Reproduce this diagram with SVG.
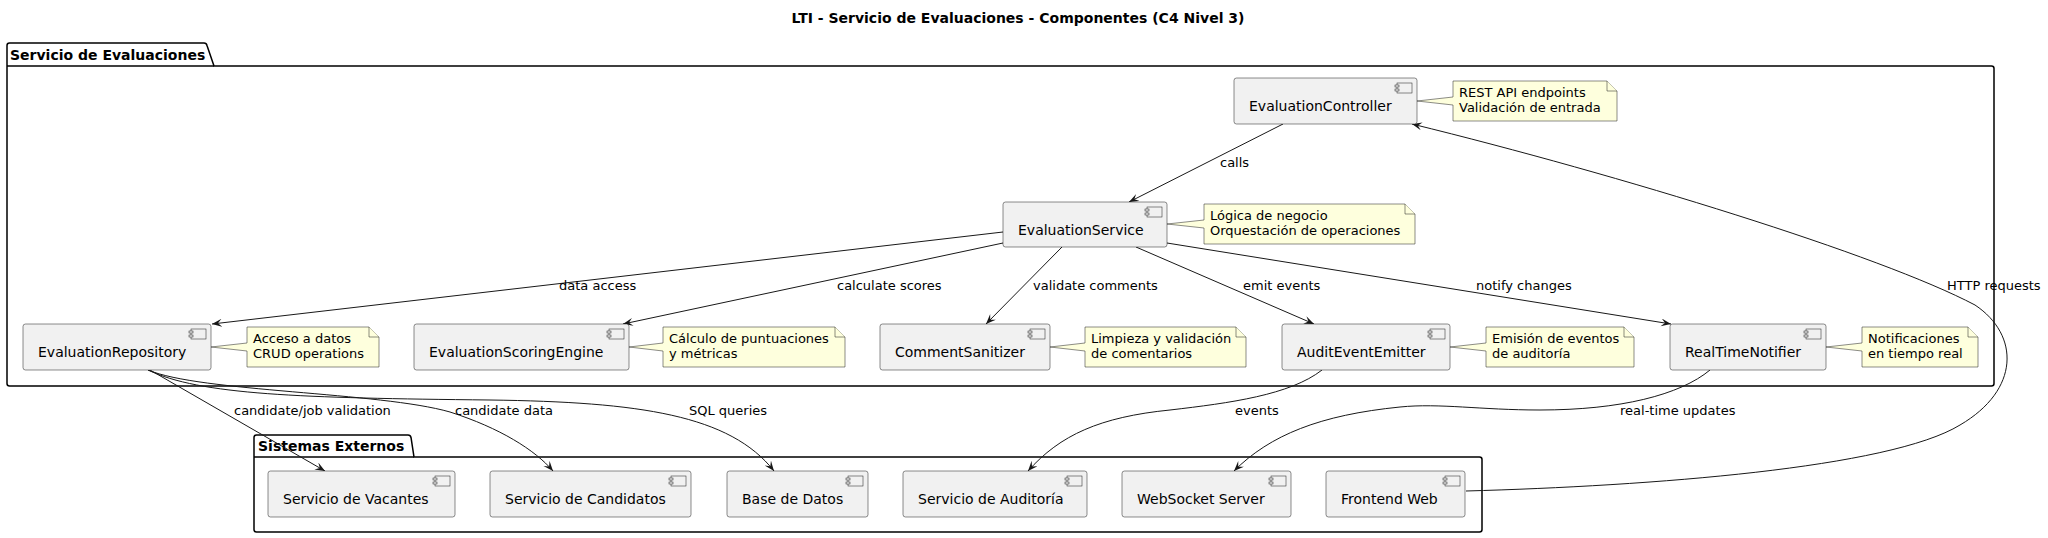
<svg xmlns="http://www.w3.org/2000/svg" width="2048" height="538" viewBox="0 0 2048 538">
<style>
text{font-family:"DejaVu Sans","Liberation Sans",sans-serif;fill:#000}
.title{font-size:14px;font-weight:bold}
.pkgl{font-size:14px;font-weight:bold}
.cl{font-size:14px}
.nt{font-size:13px}
.lb{font-size:13px}
.pkg{fill:none;stroke:#000;stroke-width:1.5}
.comp{fill:#F1F1F1;stroke:#181818;stroke-width:0.5}
.ico{fill:#F1F1F1;stroke:#181818;stroke-width:0.5}
.note{fill:#FEFFDD;stroke:#181818;stroke-width:0.5}
.edge{fill:none;stroke:#181818;stroke-width:1}
</style>
<defs>
<marker id="ah" markerUnits="userSpaceOnUse" markerWidth="12" markerHeight="10" refX="10" refY="4" orient="auto">
<path d="M0,0 L10,4 L0,8 L4,4 Z" fill="#181818"/>
</marker>
<g id="icon">
<rect x="-20" y="5" width="15" height="10" class="ico"/>
<rect x="-22" y="7" width="4" height="2" class="ico"/>
<rect x="-22" y="11" width="4" height="2" class="ico"/>
</g>
</defs>

<text class="title" x="1018" y="23" text-anchor="middle">LTI - Servicio de Evaluaciones - Componentes (C4 Nivel 3)</text>

<g id="pkg-evaluaciones">
<path class="pkg" d="M7,45.5 Q7,43 9.5,43 L204,43 Q206.5,43 207,45.5 L214,66 L1991.5,66 Q1994,66 1994,68.5 L1994,383.5 Q1994,386 1991.5,386 L9.5,386 Q7,386 7,383.5 Z"/>
<line class="pkg" x1="7" y1="66" x2="214" y2="66"/>
<text class="pkgl" x="10" y="60">Servicio de Evaluaciones</text>
</g>

<g id="pkg-externos">
<path class="pkg" d="M254,437.5 Q254,435 256.5,435 L408,435 Q410.5,435 411,437.5 L414,457 L1479.5,457 Q1482,457 1482,459.5 L1482,529.5 Q1482,532 1479.5,532 L256.5,532 Q254,532 254,529.5 Z"/>
<line class="pkg" x1="254" y1="457" x2="414" y2="457"/>
<text class="pkgl" x="258" y="451">Sistemas Externos</text>
</g>

<g id="connectors">
<path class="edge" d="M1283,124 L1129,202" marker-end="url(#ah)"/>
<text class="lb" x="1220" y="167">calls</text>
<path class="edge" d="M1003,232 L212,324" marker-end="url(#ah)"/>
<text class="lb" x="559" y="290">data access</text>
<path class="edge" d="M1003,243 L623,324" marker-end="url(#ah)"/>
<text class="lb" x="837" y="290">calculate scores</text>
<path class="edge" d="M1062,247 L986,324" marker-end="url(#ah)"/>
<text class="lb" x="1033" y="290">validate comments</text>
<path class="edge" d="M1136,247 L1314,324" marker-end="url(#ah)"/>
<text class="lb" x="1243" y="290">emit events</text>
<path class="edge" d="M1167,243 L1671,324" marker-end="url(#ah)"/>
<text class="lb" x="1476" y="290">notify changes</text>
<path class="edge" d="M1466,491 C1650,486 1890,468 1960,425 C2020,390 2020,335 1975,305 C1880,255 1620,175 1412,124" marker-end="url(#ah)"/>
<text class="lb" x="1947" y="290">HTTP requests</text>
<path class="edge" d="M150,370 L325,471" marker-end="url(#ah)"/>
<text class="lb" x="234" y="415">candidate/job validation</text>
<path class="edge" d="M148,370 C200,392 380,392 450,412 C500,428 535,450 553,471" marker-end="url(#ah)"/>
<text class="lb" x="455" y="415">candidate data</text>
<path class="edge" d="M148,370 C200,395 300,398 490,400 C640,402 730,415 774,471" marker-end="url(#ah)"/>
<text class="lb" x="689" y="415">SQL queries</text>
<path class="edge" d="M1322,370 C1290,395 1230,403 1170,410 C1100,417 1060,435 1028,471" marker-end="url(#ah)"/>
<text class="lb" x="1235" y="415">events</text>
<path class="edge" d="M1710,370 C1680,395 1620,410 1540,410 C1480,410 1440,403 1400,407 C1320,415 1270,435 1234,471" marker-end="url(#ah)"/>
<text class="lb" x="1620" y="415">real-time updates</text>
</g>

<g id="EvaluationController">
<rect class="comp" x="1234" y="78" width="183" height="46" rx="2.5"/>
<use href="#icon" x="1417" y="78"/>
<text class="cl" x="1249" y="111">EvaluationController</text>
</g>
<g id="note-controller">
<path class="note" d="M1453,81 L1607,81 L1617,91 L1617,121 L1453,121 L1453,105 L1417,101 L1453,97 Z"/>
<path class="note" d="M1607,81 L1607,91 L1617,91"/>
<text class="nt" x="1459" y="97">REST API endpoints</text>
<text class="nt" x="1459" y="112">Validación de entrada</text>
</g>

<g id="EvaluationService">
<rect class="comp" x="1003" y="202" width="164" height="45" rx="2.5"/>
<use href="#icon" x="1167" y="202"/>
<text class="cl" x="1018" y="235">EvaluationService</text>
</g>
<g id="note-service">
<path class="note" d="M1204,204 L1405,204 L1415,214 L1415,244 L1204,244 L1204,228 L1167,224 L1204,220 Z"/>
<path class="note" d="M1405,204 L1405,214 L1415,214"/>
<text class="nt" x="1210" y="220">Lógica de negocio</text>
<text class="nt" x="1210" y="235">Orquestación de operaciones</text>
</g>

<g id="EvaluationRepository">
<rect class="comp" x="23" y="324" width="188" height="46" rx="2.5"/>
<use href="#icon" x="211" y="324"/>
<text class="cl" x="38" y="357">EvaluationRepository</text>
</g>
<g id="note-repository">
<path class="note" d="M247,327 L369,327 L379,337 L379,367 L247,367 L247,351 L211,347 L247,343 Z"/>
<path class="note" d="M369,327 L369,337 L379,337"/>
<text class="nt" x="253" y="343">Acceso a datos</text>
<text class="nt" x="253" y="358">CRUD operations</text>
</g>

<g id="EvaluationScoringEngine">
<rect class="comp" x="414" y="324" width="215" height="46" rx="2.5"/>
<use href="#icon" x="629" y="324"/>
<text class="cl" x="429" y="357">EvaluationScoringEngine</text>
</g>
<g id="note-scoring">
<path class="note" d="M663,327 L835,327 L845,337 L845,367 L663,367 L663,351 L629,347 L663,343 Z"/>
<path class="note" d="M835,327 L835,337 L845,337"/>
<text class="nt" x="669" y="343">Cálculo de puntuaciones</text>
<text class="nt" x="669" y="358">y métricas</text>
</g>

<g id="CommentSanitizer">
<rect class="comp" x="880" y="324" width="170" height="46" rx="2.5"/>
<use href="#icon" x="1050" y="324"/>
<text class="cl" x="895" y="357">CommentSanitizer</text>
</g>
<g id="note-sanitizer">
<path class="note" d="M1085,327 L1236,327 L1246,337 L1246,367 L1085,367 L1085,351 L1050,347 L1085,343 Z"/>
<path class="note" d="M1236,327 L1236,337 L1246,337"/>
<text class="nt" x="1091" y="343">Limpieza y validación</text>
<text class="nt" x="1091" y="358">de comentarios</text>
</g>

<g id="AuditEventEmitter">
<rect class="comp" x="1282" y="324" width="168" height="46" rx="2.5"/>
<use href="#icon" x="1450" y="324"/>
<text class="cl" x="1297" y="357">AuditEventEmitter</text>
</g>
<g id="note-emitter">
<path class="note" d="M1486,327 L1624,327 L1634,337 L1634,367 L1486,367 L1486,351 L1450,347 L1486,343 Z"/>
<path class="note" d="M1624,327 L1624,337 L1634,337"/>
<text class="nt" x="1492" y="343">Emisión de eventos</text>
<text class="nt" x="1492" y="358">de auditoría</text>
</g>

<g id="RealTimeNotifier">
<rect class="comp" x="1670" y="324" width="156" height="46" rx="2.5"/>
<use href="#icon" x="1826" y="324"/>
<text class="cl" x="1685" y="357">RealTimeNotifier</text>
</g>
<g id="note-notifier">
<path class="note" d="M1862,327 L1968,327 L1978,337 L1978,367 L1862,367 L1862,351 L1826,347 L1862,343 Z"/>
<path class="note" d="M1968,327 L1968,337 L1978,337"/>
<text class="nt" x="1868" y="343">Notificaciones</text>
<text class="nt" x="1868" y="358">en tiempo real</text>
</g>

<g id="ServicioVacantes">
<rect class="comp" x="268" y="471" width="187" height="46" rx="2.5"/>
<use href="#icon" x="455" y="471"/>
<text class="cl" x="283" y="504">Servicio de Vacantes</text>
</g>
<g id="ServicioCandidatos">
<rect class="comp" x="490" y="471" width="201" height="46" rx="2.5"/>
<use href="#icon" x="691" y="471"/>
<text class="cl" x="505" y="504">Servicio de Candidatos</text>
</g>
<g id="BaseDatos">
<rect class="comp" x="727" y="471" width="141" height="46" rx="2.5"/>
<use href="#icon" x="868" y="471"/>
<text class="cl" x="742" y="504">Base de Datos</text>
</g>
<g id="ServicioAuditoria">
<rect class="comp" x="903" y="471" width="184" height="46" rx="2.5"/>
<use href="#icon" x="1087" y="471"/>
<text class="cl" x="918" y="504">Servicio de Auditoría</text>
</g>
<g id="WebSocketServer">
<rect class="comp" x="1122" y="471" width="169" height="46" rx="2.5"/>
<use href="#icon" x="1291" y="471"/>
<text class="cl" x="1137" y="504">WebSocket Server</text>
</g>
<g id="FrontendWeb">
<rect class="comp" x="1326" y="471" width="139" height="46" rx="2.5"/>
<use href="#icon" x="1465" y="471"/>
<text class="cl" x="1341" y="504">Frontend Web</text>
</g>
</svg>
